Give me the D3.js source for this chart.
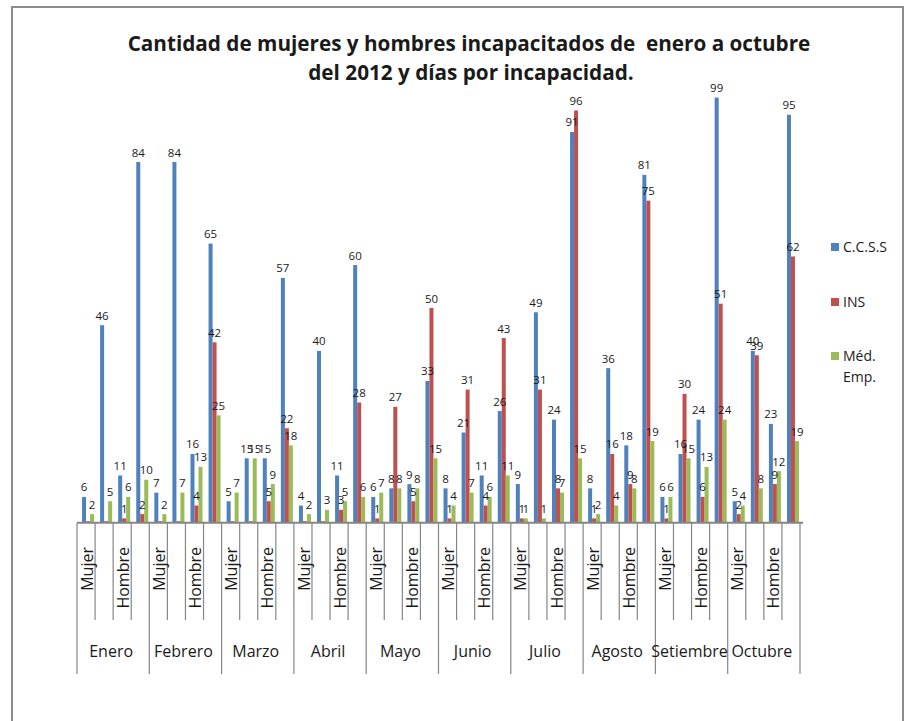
<html>
<head>
<meta charset="utf-8">
<style>
    body { margin: 0; background: white; }
    text { font-family: "Open Sans", sans-serif; fill: #1a1a1a; }
</style>
</head>
<body>
<svg id="container" width="915" height="721"></svg>
<script src="https://cdn.jsdelivr.net/npm/d3@7"></script>
<script>
    let months = ["Enero", "Febrero", "Marzo", "Abril", "Mayo", "Junio", "Julio", "Agosto", "Setiembre", "Octubre"]
    let slotLabels = ["Mujer", "", "Hombre", ""]
    let seriesNames = ["C.C.S.S", "INS", "Méd. Emp."]

    // 4 slots per month, in month order (null = empty cell)
    let ccss = [6, 46, 11, 84, 7, 84, 16, 65, 5, 15, 15, 57, 4, 40, 11, 60, 6, 8, 9, 33,
        8, 21, 11, 26, 9, 49, 24, 91, 8, 36, 18, 81, 6, 16, 24, 99, 5, 40, 23, 95]
    let ins = [null, null, 1, 2, null, null, 4, 42, null, null, 5, 22, null, null, 3, 28, 1, 27, 5, 50,
        1, 31, 4, 43, 1, 31, 8, 96, 1, 16, 9, 75, 1, 30, 6, 51, 2, 39, 9, 62]
    let medEmp = [2, 5, 6, 10, 2, 7, 13, 25, 7, 15, 9, 18, 2, 3, 5, 6, 7, 8, 8, 15,
        4, 7, 6, 11, 1, 1, 7, 15, 2, 4, 8, 19, 6, 15, 13, 24, 4, 8, 12, 19]

    let colors = ["#4f81bd", "#c0504d", "#9bbb59"]

    let svg = d3.select("#container")

    // frame
    svg.append("rect")
        .attr("x", 12).attr("y", 7)
        .attr("width", 891).attr("height", 716)
        .attr("fill", "none").attr("stroke", "#8c8c8c").attr("stroke-width", 2)

    // title
    let title = svg.append("g")
    let t1 = title.append("text")
        .attr("x", 469).attr("y", 51)
        .attr("text-anchor", "middle")
        .attr("font-weight", "bold")
        .attr("font-size", 20)
        .style("white-space", "pre")
        .text("Cantidad de mujeres y hombres incapacitados de  enero a octubre")
    let fs = 20 * 683 / t1.node().getComputedTextLength()
    t1.attr("font-size", fs)
    title.append("text")
        .attr("x", 471).attr("y", 80)
        .attr("text-anchor", "middle")
        .attr("font-weight", "bold")
        .attr("font-size", fs)
        .text("del 2012 y días por incapacidad.")

    let slots = []
    months.forEach((m, i) => slotLabels.forEach((s, j) => slots.push(i * 4 + j)))

    let x = d3.scaleBand()
        .domain(slots)
        .range([77, 800])
        .padding(0)

    let y = d3.scaleLinear()
        .domain([0, 100])
        .range([522.7, 93.3])

    let inner = d3.scaleBand()
        .domain([0, 1, 2])
        .range([-6, 6])

    let series = [ccss, ins, medEmp]

    let bars = svg.append("g")
    let labels = svg.append("g")
    series.forEach((vals, si) => {
        let pts = vals.map((v, i) => ({ v: v, i: i }))
        let cx = d => x(d.i) + x.bandwidth() / 2 + 2 + inner(si)

        bars.append("g").selectAll("rect")
            .data(pts)
            .enter()
            .append("rect")
            .attr("x", cx)
            .attr("width", inner.bandwidth())
            .attr("y", d => d.v == null ? y(0) - 1.5 : y(d.v))
            .attr("height", d => d.v == null ? 1.5 : y(0) - y(d.v))
            .attr("fill", colors[si])

        labels.append("g").selectAll("text")
            .data(pts.filter(d => d.v != null))
            .enter()
            .append("text")
            .attr("x", d => cx(d) + inner.bandwidth() / 2)
            .attr("y", d => y(d.v) - 5.5)
            .attr("text-anchor", "middle")
            .attr("font-size", 11.5)
            .text(d => d.v)
    })

    // category axis
    let axis = svg.append("g")
    axis.append("line")
        .attr("x1", 77).attr("x2", 803)
        .attr("y1", y(0)).attr("y2", y(0))
        .attr("stroke", "#868686").attr("stroke-width", 2)

    let bounds = d3.range(slots.length + 1)
    let bx = d => d < slots.length ? x(d) : x(d - 1) + x.bandwidth()
    axis.selectAll("line.tick")
        .data(bounds)
        .enter()
        .append("line")
        .attr("class", "tick")
        .attr("x1", bx)
        .attr("x2", bx)
        .attr("y1", y(0))
        .attr("y2", d => d % 4 == 0 ? 674 : 620)
        .attr("stroke", "#868686").attr("stroke-width", 1.2)

    axis.selectAll("text.slot")
        .data(slots.filter(s => slotLabels[s % 4] != ""))
        .enter()
        .append("text")
        .attr("class", "slot")
        .attr("transform", d => `translate(${x(d) + x.bandwidth() / 2 + 1},547) rotate(-90)`)
        .attr("dy", "0.35em")
        .attr("text-anchor", "end")
        .attr("font-size", 16)
        .text(d => slotLabels[d % 4])

    axis.selectAll("text.month")
        .data(months)
        .enter()
        .append("text")
        .attr("class", "month")
        .attr("x", (d, i) => x(i * 4) + x.bandwidth() * 2 - 2)
        .attr("y", 657)
        .attr("text-anchor", "middle")
        .attr("font-size", 16)
        .text(d => d)

    // legend
    let legendY = [247, 302, 356]
    let legend = svg.append("g")
    seriesNames.forEach((name, i) => {
        legend.append("rect")
            .attr("x", 831).attr("y", legendY[i] - 4)
            .attr("width", 8).attr("height", 8)
            .attr("fill", colors[i])
        let parts = name.split(" ")
        let t = legend.append("text")
            .attr("x", 843).attr("y", legendY[i])
            .attr("dy", "0.35em")
            .attr("font-size", 14)
        if (name == "Méd. Emp.") {
            t.append("tspan").attr("x", 843).text(parts[0])
            t.append("tspan").attr("x", 843).attr("dy", "1.5em").text(parts[1])
        } else {
            t.text(name)
        }
    })
</script>
</body>
</html>
